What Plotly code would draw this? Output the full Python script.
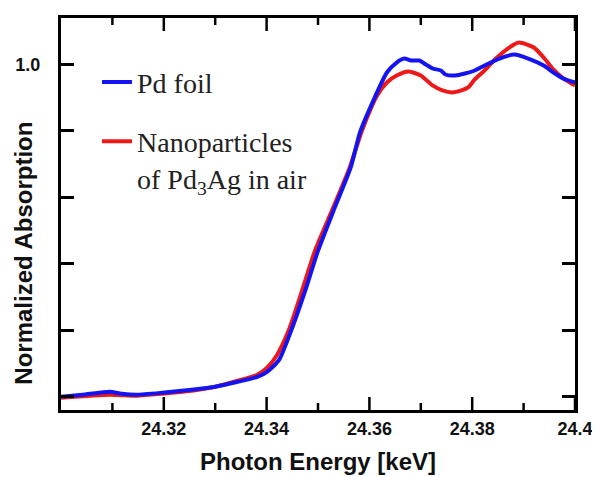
import plotly.graph_objects as go

# Pd foil (blue)
foil_e = [24.3000, 24.3042, 24.3095, 24.3118, 24.3147, 24.3197, 24.3254, 24.3300,
          24.3344, 24.3382, 24.3401, 24.3424, 24.3448, 24.3475, 24.3500, 24.3532,
          24.3563, 24.3582, 24.3609, 24.3634, 24.3653, 24.3668, 24.3681, 24.3697,
          24.3710, 24.3723, 24.3739, 24.3748, 24.3767, 24.3786, 24.3805, 24.3824,
          24.3853, 24.3882, 24.3914, 24.3939, 24.3958, 24.3977, 24.4000]
foil_mu = [0.000, 0.006, 0.015, 0.009, 0.006, 0.012, 0.021, 0.030,
           0.045, 0.060, 0.075, 0.110, 0.200, 0.319, 0.439, 0.567,
           0.687, 0.797, 0.896, 0.976, 1.006, 1.018, 1.012, 1.012,
           1.000, 0.988, 0.982, 0.970, 0.967, 0.973, 0.982, 0.997,
           1.018, 1.030, 1.015, 0.997, 0.976, 0.958, 0.946]

# Pd3Ag nanoparticles in air (red)
nano_e = [24.3000, 24.3095, 24.3147, 24.3197, 24.3254, 24.3300, 24.3344, 24.3382,
          24.3401, 24.3420, 24.3443, 24.3469, 24.3494, 24.3529, 24.3561, 24.3586,
          24.3615, 24.3634, 24.3653, 24.3676, 24.3700, 24.3723, 24.3742, 24.3761,
          24.3779, 24.3792, 24.3805, 24.3824, 24.3844, 24.3872, 24.3891, 24.3920,
          24.3939, 24.3958, 24.3977, 24.4000]
nano_mu = [-0.003, 0.006, 0.003, 0.009, 0.018, 0.030, 0.048, 0.066,
           0.087, 0.125, 0.200, 0.319, 0.439, 0.567, 0.687, 0.803,
           0.907, 0.946, 0.967, 0.979, 0.967, 0.937, 0.922, 0.916,
           0.922, 0.931, 0.955, 0.982, 1.015, 1.051, 1.066, 1.051,
           1.021, 0.985, 0.958, 0.937]

y_ticks = [0.0, 0.2, 0.4, 0.6, 0.8, 1.0]
y_labels = ["", "", "", "", "", "1.0"]
x_ticks = [24.32, 24.34, 24.36, 24.38, 24.40]
x_labels = ["24.32", "24.34", "24.36", "24.38", "24.4"]
x_minor = [24.31, 24.33, 24.35, 24.37, 24.39]

BLUE = "rgb(20,20,240)"
RED = "rgb(238,24,24)"
SANS = "Liberation Sans, Arial, sans-serif"
SERIF = "Liberation Serif, Times New Roman, serif"
TICKFONT = dict(family=SANS, size=18, color="#111", weight="bold")

fig = go.Figure()
fig.add_trace(go.Scatter(x=nano_e, y=nano_mu, mode="lines",
                         name="Nanoparticles<br>of Pd<sub>3</sub>Ag in air",
                         line=dict(color=RED, width=4, shape="spline", smoothing=0.6),
                         legendrank=2, legendgroup="b"))
fig.add_trace(go.Scatter(x=foil_e, y=foil_mu, mode="lines", name="Pd foil",
                         line=dict(color=BLUE, width=4, shape="spline", smoothing=0.6),
                         legendrank=1, legendgroup="a"))

# x tick marks drawn as short pixel-sized shapes on the bottom and top frame
# edges (axis ticks did not render on this axis)
for vals, ln in [(x_ticks, 13), (x_minor, 7)]:
    for v in vals:
        fig.add_shape(type="line", xref="x", yref="paper", ysizemode="pixel",
                      yanchor=0, x0=v, x1=v, y0=0, y1=ln,
                      line=dict(color="black", width=2.5))
        fig.add_shape(type="line", xref="x", yref="paper", ysizemode="pixel",
                      yanchor=1, x0=v, x1=v, y0=0, y1=-ln,
                      line=dict(color="black", width=2.5))

# page body has an 8px margin, so the figure is sized/offset to compensate
fig.update_layout(
    width=592, height=469,
    margin=dict(l=50, r=18, t=7, b=67),
    plot_bgcolor="white", paper_bgcolor="white",
    showlegend=True,
    legend=dict(x=0.07, y=0.90, xanchor="left", yanchor="top",
                font=dict(family=SERIF, size=28, color="#222"),
                bgcolor="rgba(0,0,0,0)", valign="top",
                tracegroupgap=20, itemwidth=30),
    annotations=[
        dict(text="Photon Energy [keV]", xref="paper", yref="paper",
             x=0.5, y=-0.132, xanchor="center", yanchor="middle", showarrow=False,
             font=dict(family=SANS, size=24, color="#111", weight="bold")),
        dict(text="Normalized Absorption", xref="paper", yref="paper",
             x=-0.073, y=0.40, xanchor="center", yanchor="middle", showarrow=False,
             textangle=-90,
             font=dict(family=SANS, size=24, color="#111", weight="bold")),
    ],
    xaxis=dict(range=[24.30, 24.40], tickmode="array",
               tickvals=x_ticks, ticktext=x_labels,
               showgrid=False, zeroline=False,
               showline=True, linecolor="black", linewidth=3, mirror=True,
               ticks="", tickfont=TICKFONT),
    yaxis=dict(range=[-0.04, 1.14], tickmode="array",
               tickvals=y_ticks, ticktext=y_labels,
               showgrid=False, zeroline=False,
               showline=True, linecolor="black", linewidth=3, mirror="ticks",
               ticks="inside", ticklen=13, tickwidth=2.5, tickcolor="black",
               tickfont=TICKFONT, ticklabelstandoff=14),
)

fig.write_html("out.html")
